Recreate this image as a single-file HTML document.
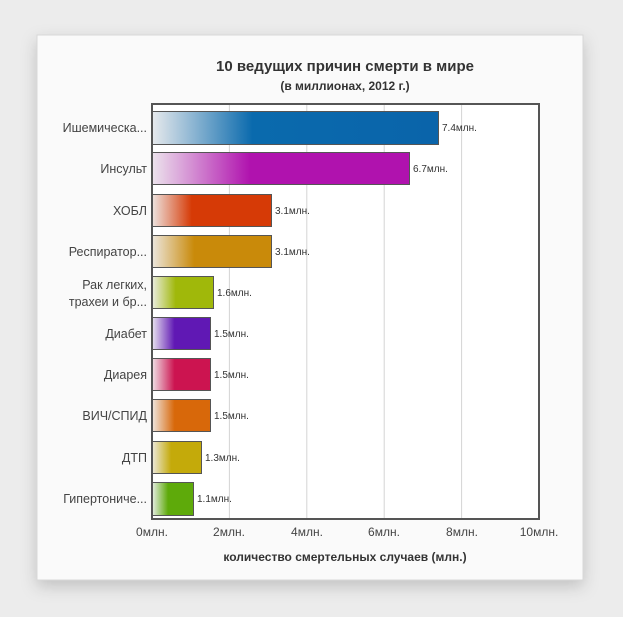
<!DOCTYPE html>
<html><head><meta charset="utf-8"><style>
body{margin:0;background:#ececec;width:623px;height:617px;overflow:hidden}
svg{display:block;font-family:"Liberation Sans",sans-serif}
</style></head><body>
<svg width="623" height="617" viewBox="0 0 623 617">
<defs>
<filter id="sh" x="-10%" y="-10%" width="120%" height="130%"><feDropShadow dx="0" dy="6" stdDeviation="8" flood-color="#000" flood-opacity="0.18"/></filter>
<linearGradient id="g0"><stop offset="0" stop-color="#e6e9ec"/><stop offset="0.35" stop-color="#0a6aad"/><stop offset="1" stop-color="#0a64aa"/></linearGradient>
<linearGradient id="g1"><stop offset="0" stop-color="#ece3ec"/><stop offset="0.38" stop-color="#b012ae"/><stop offset="1" stop-color="#b012ae"/></linearGradient>
<linearGradient id="g2"><stop offset="0" stop-color="#ede2de"/><stop offset="0.33" stop-color="#d63a06"/><stop offset="1" stop-color="#d63a06"/></linearGradient>
<linearGradient id="g3"><stop offset="0" stop-color="#ece6dc"/><stop offset="0.35" stop-color="#c98a0a"/><stop offset="1" stop-color="#c98a0a"/></linearGradient>
<linearGradient id="g4"><stop offset="0" stop-color="#eaecde"/><stop offset="0.38" stop-color="#a0b80a"/><stop offset="1" stop-color="#a0b80a"/></linearGradient>
<linearGradient id="g5"><stop offset="0" stop-color="#e6e0ee"/><stop offset="0.38" stop-color="#6018b4"/><stop offset="1" stop-color="#6018b4"/></linearGradient>
<linearGradient id="g6"><stop offset="0" stop-color="#eedee4"/><stop offset="0.38" stop-color="#cc1450"/><stop offset="1" stop-color="#cc1450"/></linearGradient>
<linearGradient id="g7"><stop offset="0" stop-color="#eee4dc"/><stop offset="0.38" stop-color="#d8680a"/><stop offset="1" stop-color="#d8680a"/></linearGradient>
<linearGradient id="g8"><stop offset="0" stop-color="#ece8d8"/><stop offset="0.38" stop-color="#c4aa0a"/><stop offset="1" stop-color="#c4aa0a"/></linearGradient>
<linearGradient id="g9"><stop offset="0" stop-color="#e4ece0"/><stop offset="0.38" stop-color="#5eaa0a"/><stop offset="1" stop-color="#5eaa0a"/></linearGradient>
</defs>
<rect x="37" y="35" width="546" height="545" fill="#fafafa" stroke="#d8d8d8" filter="url(#sh)"/>
<text x="345" y="71" text-anchor="middle" font-size="15" font-weight="bold" fill="#333">10 ведущих причин смерти в мире</text>
<text x="345" y="90" text-anchor="middle" font-size="12" font-weight="bold" fill="#333">(в миллионах, 2012 г.)</text>
<rect x="152" y="104" width="387" height="415" fill="#fff"/>
<g stroke="#d4d4d4" stroke-width="1">
<line x1="229.4" y1="104" x2="229.4" y2="519"/><line x1="306.8" y1="104" x2="306.8" y2="519"/><line x1="384.2" y1="104" x2="384.2" y2="519"/><line x1="461.6" y1="104" x2="461.6" y2="519"/>
</g>
<g stroke="#555" stroke-width="1">
<rect x="152.5" y="111.5" width="286" height="33" fill="url(#g0)"/>
<rect x="152.5" y="152.5" width="257" height="32" fill="url(#g1)"/>
<rect x="152.5" y="194.5" width="119" height="32" fill="url(#g2)"/>
<rect x="152.5" y="235.5" width="119" height="32" fill="url(#g3)"/>
<rect x="152.5" y="276.5" width="61" height="32" fill="url(#g4)"/>
<rect x="152.5" y="317.5" width="58" height="32" fill="url(#g5)"/>
<rect x="152.5" y="358.5" width="58" height="32" fill="url(#g6)"/>
<rect x="152.5" y="399.5" width="58" height="32" fill="url(#g7)"/>
<rect x="152.5" y="441.5" width="49" height="32" fill="url(#g8)"/>
<rect x="152.5" y="482.5" width="41" height="33" fill="url(#g9)"/>
</g>
<rect x="152" y="104" width="387" height="415" fill="none" stroke="#555" stroke-width="2"/>
<g font-size="10" fill="#333">
<text x="442" y="131">7.4млн.</text><text x="413" y="172">6.7млн.</text><text x="275" y="214">3.1млн.</text><text x="275" y="255">3.1млн.</text>
<text x="217" y="296">1.6млн.</text><text x="214" y="337">1.5млн.</text><text x="214" y="378">1.5млн.</text><text x="214" y="419">1.5млн.</text>
<text x="205" y="461">1.3млн.</text><text x="197" y="502">1.1млн.</text>
</g>
<g font-size="12.5" fill="#444" text-anchor="end">
<text x="147" y="132">Ишемическа...</text><text x="147" y="173">Инсульт</text><text x="147" y="215">ХОБЛ</text><text x="147" y="256">Респиратор...</text>
<text x="147" y="289">Рак легких,</text><text x="147" y="306">трахеи и бр...</text>
<text x="147" y="338">Диабет</text><text x="147" y="379">Диарея</text><text x="147" y="420">ВИЧ/СПИД</text><text x="147" y="462">ДТП</text><text x="147" y="503">Гипертониче...</text>
</g>
<g font-size="12" fill="#444" text-anchor="middle">
<text x="152" y="536">0млн.</text><text x="229" y="536">2млн.</text><text x="307" y="536">4млн.</text><text x="384" y="536">6млн.</text><text x="462" y="536">8млн.</text><text x="539" y="536">10млн.</text>
</g>
<text x="345" y="561" text-anchor="middle" font-size="12" font-weight="bold" fill="#333">количество смертельных случаев (млн.)</text>
</svg>
</body></html>
